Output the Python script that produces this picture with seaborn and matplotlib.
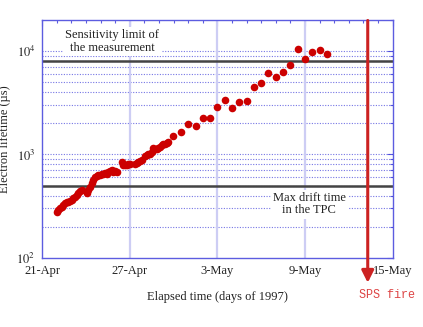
import numpy as np
import pandas as pd
import matplotlib
matplotlib.use("Agg")
import matplotlib.pyplot as plt
import seaborn as sns

# elapsed days since 21-Apr-1997 and electron lifetime (us)
days = [0.98, 1.10, 1.21, 1.33, 1.44, 1.55, 1.67, 1.78, 1.90, 2.01, 2.12, 2.24, 2.35, 2.47, 2.58, 2.69,
        3.04, 3.15, 3.26, 3.38, 3.49, 3.61, 3.72, 3.84, 3.95, 4.07, 4.18, 4.29, 4.41, 4.52, 4.64, 4.75,
        4.86, 4.98, 5.10,
        5.44, 5.55, 5.66, 5.78, 5.89, 6.00, 6.35, 6.47, 6.58, 6.69, 6.81, 7.03, 7.15, 7.26, 7.38, 7.49,
        7.60, 7.72, 7.84, 7.95, 8.06, 8.18, 8.29, 8.40, 8.52, 8.63, 8.97,
        9.5, 10.0, 10.5, 11.0, 11.5, 12.0, 12.5, 13.0, 13.5, 14.0, 14.5, 15.0, 15.5, 16.0, 16.5, 17.0,
        17.5, 18.0, 18.5, 19.0, 19.5]
lifetime = [279, 289, 300, 311, 323, 336, 343, 348, 356, 361, 375, 384, 404, 425, 444, 458,
            425, 451, 486, 524, 572, 607, 616, 630, 630, 644, 654, 663, 654, 678, 693, 704,
            678, 693, 678,
            847, 799, 787, 799, 804, 817, 804, 828, 847, 866, 879, 961, 982, 1004, 1020, 1057,
            1166, 1140, 1140, 1166, 1181, 1227, 1254, 1274, 1291, 1320, 1499,
            1649, 1988, 1872, 2271, 2271, 2874, 3388, 2836, 3241, 3284, 4483, 4943, 6079, 5561, 6313, 7261,
            10595, 8427, 9911, 10361, 9417]

tick_days = [0, 6, 12, 18, 24]
tick_labels = ["21-Apr", "27-Apr", "3-May", "9-May", "15-May"]
sensitivity_limit = 8000
max_drift = 500
sps_fire_day = 22.3

df = pd.DataFrame({"day": days, "lifetime": lifetime})

sns.set_theme(style="white")
plt.rcParams["font.family"] = ["Liberation Serif", "DejaVu Serif"]
plt.rcParams["mathtext.fontset"] = "stix"

fig = plt.figure(figsize=(4.23, 3.27), dpi=100)
ax = fig.add_axes([0.1, 0.2116, 0.828, 0.7272])

blue = "#5c5ce0"
ax.set_yscale("log")
ax.set_xlim(0, 24)
ax.set_ylim(100, 20000)

# grid
minor_vals = [m * 10 ** e for e in (2, 3) for m in range(2, 10)] + [1000, 10000]
for v in minor_vals:
    ax.axhline(v, color="#3a3ad8", lw=0.8, ls=(0, (1, 1.4)), alpha=0.7, zorder=1)
for d in tick_days[1:-1]:
    ax.axvline(d, color="#cdcdf4", lw=1.6, zorder=1)

ax.axhline(sensitivity_limit, color="#444444", lw=1.8, zorder=2)
ax.axhline(max_drift, color="#444444", lw=1.8, zorder=2)

sns.scatterplot(data=df, x="day", y="lifetime", ax=ax, color="#cc0000",
                s=30, linewidth=0, zorder=3)

ax.text(4.8, 12400, "Sensitivity limit of\nthe measurement", ha="center", va="center",
        fontsize=9, linespacing=1.05, color="#222222",
        bbox=dict(facecolor="white", edgecolor="none", pad=1.5), zorder=4)
ax.text(18.3, 330, "Max drift time\nin the TPC", ha="center", va="center",
        fontsize=9, linespacing=1.05, color="#222222",
        bbox=dict(facecolor="white", edgecolor="none", pad=1.5), zorder=4)

# SPS fire arrow
ax.annotate("", xy=(sps_fire_day, -0.105), xycoords=("data", "axes fraction"),
            xytext=(sps_fire_day, 0.998), textcoords=("data", "axes fraction"),
            arrowprops=dict(arrowstyle="-|>,head_length=0.6,head_width=0.3",
                            color="#cc2222", lw=2.2, shrinkA=0, shrinkB=0),
            annotation_clip=False, zorder=5)
ax.text(sps_fire_day + 1.3, -0.155, "SPS fire", transform=ax.get_xaxis_transform(),
        ha="center", va="center", fontsize=8.5, color="#dd4444",
        family=["Liberation Mono", "DejaVu Sans Mono"])

ax.set_xticks(tick_days)
ax.set_xticklabels(tick_labels)
ax.set_xticks(np.arange(0, 25, 1), minor=True)
ax.set_yticks([100, 1000, 10000])
ax.set_yticklabels([r"$10^{2}$", r"$10^{3}$", r"$10^{4}$"])
ax.set_yticks(minor_vals[:-2] + [20000], minor=True)
ax.yaxis.set_minor_formatter(matplotlib.ticker.NullFormatter())

ax.tick_params(axis="both", which="both", direction="in", colors=blue,
               labelcolor="#222222", labelsize=9, top=True, right=True)
ax.tick_params(axis="both", which="major", length=4, width=0.8, pad=5)
ax.tick_params(axis="both", which="minor", length=2.5, width=0.8)
for s in ax.spines.values():
    s.set_color(blue)
    s.set_linewidth(1.0)

ax.set_xlabel("Elapsed time (days of 1997)", fontsize=9, color="#222222", labelpad=10)
ax.set_ylabel("Electron lifetime (\u00b5s)", fontsize=9, color="#222222", labelpad=4)

fig.savefig("out.png", dpi=100)
